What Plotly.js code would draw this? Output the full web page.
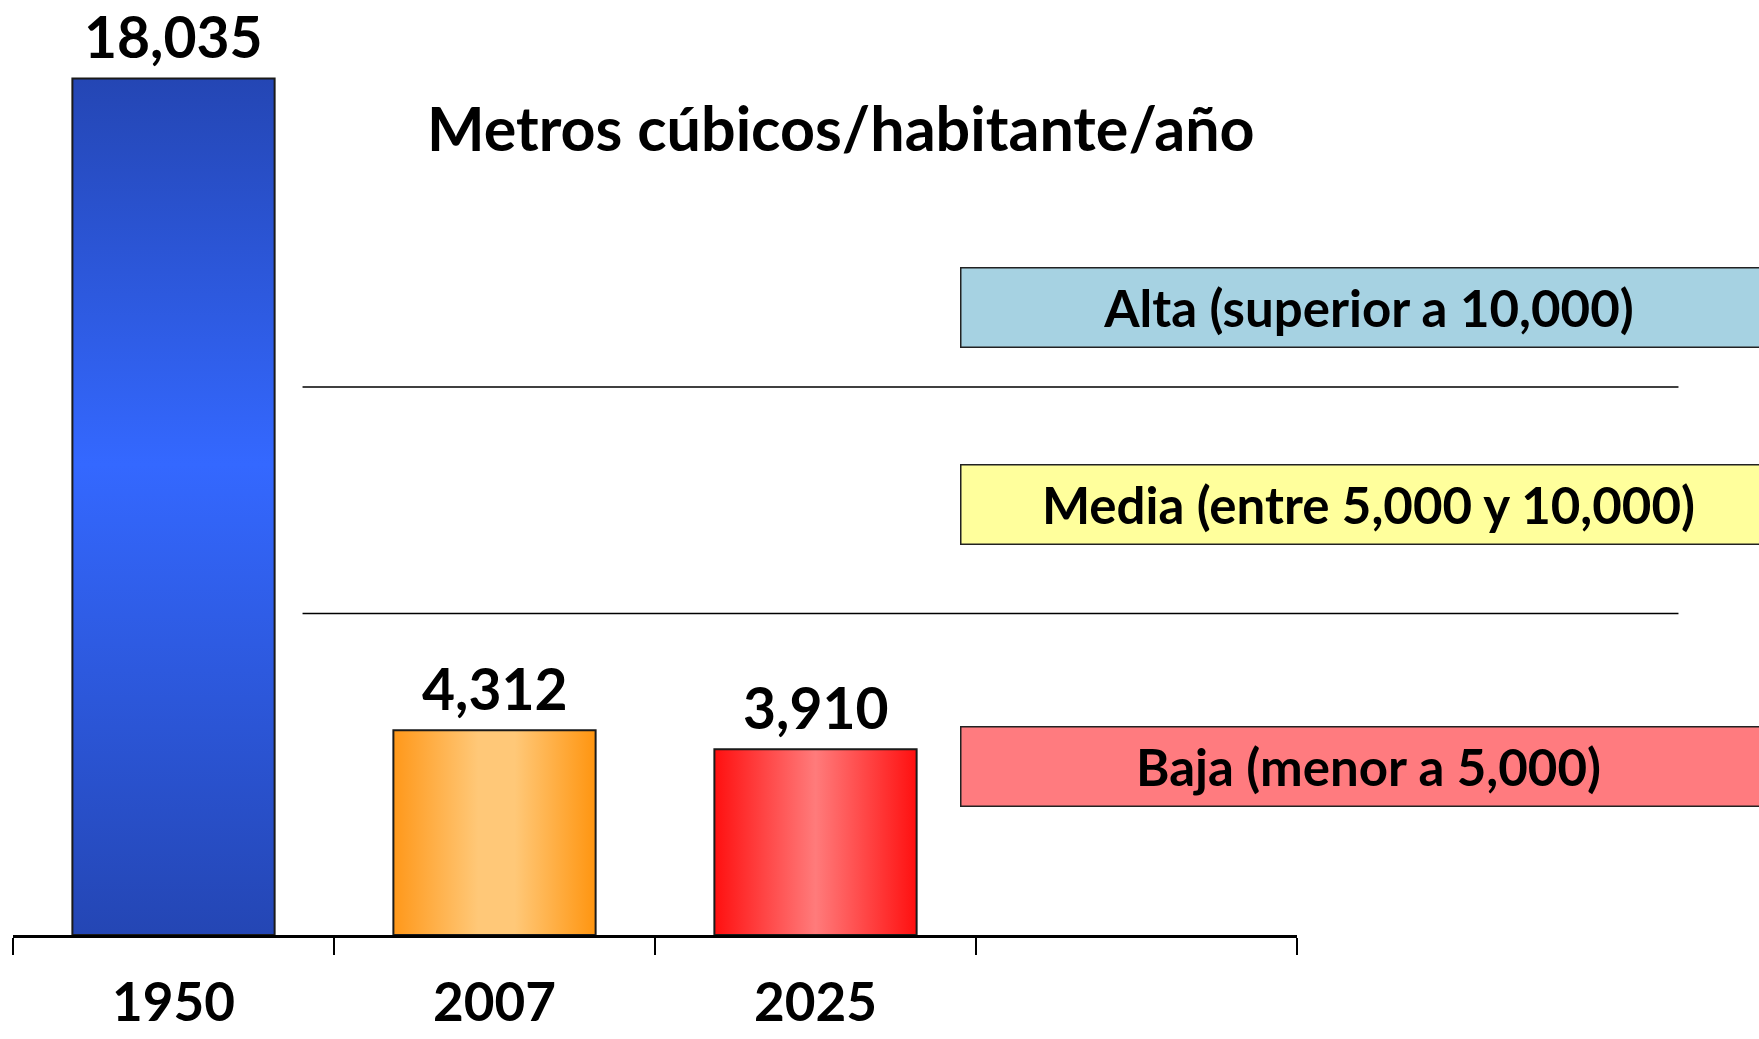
<!DOCTYPE html>
<html>
<head>
<meta charset="utf-8">
<script src="https://cdn.plot.ly/plotly-3.0.1.min.js"></script>
<style>
  html, body { margin: 0; padding: 0; background: #fff; }
  #chart { width: 1759px; height: 1039px; }
</style>
</head>
<body>
<div id="chart"></div>
<script>
// Chart data
const years = ['1950', '2007', '2025'];
const volumes = [18035, 4312, 3910];
const barColors = ['#2d5be3', '#ffb54d', '#ff4545'];
const thresholds = [10000, 5000];
const bandLabels = ['Alta (superior a 10,000)', 'Media (entre 5,000 y 10,000)', 'Baja (menor a 5,000)'];
const bandColors = ['#a6d2e2', '#ffff9c', '#ff7b7f'];
const chartTitle = 'Metros cúbicos/habitante/año';

const FONT = 'Lato, "Open Sans", sans-serif';

function drawChart() {
    const chartDiv = document.getElementById('chart');

    const barTrace = {
        x: years,
        y: volumes,
        type: 'bar',
        width: 0.63,
        marker: {
            color: barColors,
            line: { color: '#1a1a1a', width: 2 }
        },
        hoverinfo: 'x+y',
        showlegend: false
    };

    // value labels above each bar (x by category index, '1950' would be read as a number)
    const valueLabels = years.map((yr, i) => ({
        x: i,
        y: volumes[i],
        xref: 'x',
        yref: 'y',
        text: volumes[i].toLocaleString('en-US'),
        showarrow: false,
        yanchor: 'bottom',
        yshift: 6,
        font: { family: FONT, size: 57, weight: 700, color: '#000' }
    }));

    // band boxes on the right
    const bandY = [0.6706, 0.4599, 0.1807];
    const bandBoxes = bandLabels.map((label, i) => ({
        x: 1.0557,
        y: bandY[i],
        xref: 'paper',
        yref: 'paper',
        xanchor: 'center',
        yanchor: 'middle',
        text: label,
        showarrow: false,
        width: 806,
        height: 70,
        align: 'center',
        valign: 'middle',
        bgcolor: bandColors[i],
        bordercolor: '#222',
        borderwidth: 1.5,
        borderpad: 4,
        font: { family: FONT, size: 51, weight: 700, color: '#000' }
    }));

    const titleNote = {
        x: 0.6445,
        y: 0.864,
        xref: 'paper',
        yref: 'paper',
        xanchor: 'center',
        yanchor: 'middle',
        text: chartTitle,
        showarrow: false,
        font: { family: FONT, size: 61, weight: 700, color: '#000' }
    };

    // threshold lines
    const thresholdLines = thresholds.map(t => ({
        type: 'line',
        xref: 'paper',
        yref: 'y2',
        x0: 0.2255,
        x1: 1.2971,
        y0: t,
        y1: t,
        line: { color: '#000', width: 1.5 }
    }));

    const layout = {
        width: 1759,
        height: 1039,
        margin: { t: 0, l: 13, r: 462, b: 104 },
        paper_bgcolor: '#ffffff',
        plot_bgcolor: 'rgba(0,0,0,0)',
        showlegend: false,
        xaxis: {
            type: 'category',
            categoryorder: 'array',
            categoryarray: years.concat([' ']),
            range: [-0.5, 3.5],
            tickson: 'boundaries',
            ticks: 'outside',
            ticklen: 17,
            tickwidth: 2,
            tickcolor: '#000',
            showline: true,
            linecolor: '#000',
            linewidth: 2.5,
            showgrid: false,
            zeroline: false,
            ticklabelstandoff: 20,
            tickfont: { family: FONT, size: 53, weight: 700, color: '#000' },
            fixedrange: true
        },
        yaxis: {
            range: [0, 19688],
            visible: false,
            showgrid: false,
            zeroline: false,
            fixedrange: true
        },
        yaxis2: {
            overlaying: 'y',
            range: [-2092, 18539],
            visible: false,
            showgrid: false,
            zeroline: false
        },
        shapes: thresholdLines,
        annotations: valueLabels.concat(bandBoxes, [titleNote])
    };

    const config = { displayModeBar: false, staticPlot: true };

    Plotly.newPlot(chartDiv, [barTrace], layout, config).then(applyGradients);
}

// gradient fills for the bars (Plotly bars only take flat colours)
function applyGradients() {
    const svg = document.querySelector('#chart svg.main-svg');
    if (!svg) return;
    const ns = 'http://www.w3.org/2000/svg';
    let defs = svg.querySelector('defs');
    if (!defs) {
        defs = document.createElementNS(ns, 'defs');
        svg.insertBefore(defs, svg.firstChild);
    }

    const grads = [
        { id: 'g1950', vertical: true, stops: [[0, '#2446b4'], [0.45, '#3468ff'], [1, '#2446b4']] },
        { id: 'g2007', vertical: false, stops: [[0, '#ff981a'], [0.42, '#ffc878'], [0.6, '#ffc878'], [1, '#ff9510']] },
        { id: 'g2025', vertical: false, stops: [[0, '#ff1010'], [0.5, '#ff7b7b'], [1, '#ff1010']] }
    ];

    grads.forEach(g => {
        const lg = document.createElementNS(ns, 'linearGradient');
        lg.setAttribute('id', g.id);
        lg.setAttribute('x1', '0');
        lg.setAttribute('y1', '0');
        lg.setAttribute('x2', g.vertical ? '0' : '1');
        lg.setAttribute('y2', g.vertical ? '1' : '0');
        g.stops.forEach(s => {
            const st = document.createElementNS(ns, 'stop');
            st.setAttribute('offset', s[0]);
            st.setAttribute('stop-color', s[1]);
            lg.appendChild(st);
        });
        defs.appendChild(lg);
    });

    const paths = document.querySelectorAll('#chart .bars .point path');
    paths.forEach((p, i) => {
        if (grads[i]) p.style.fill = 'url(#' + grads[i].id + ')';
    });
}

drawChart();
</script>
</body>
</html>
